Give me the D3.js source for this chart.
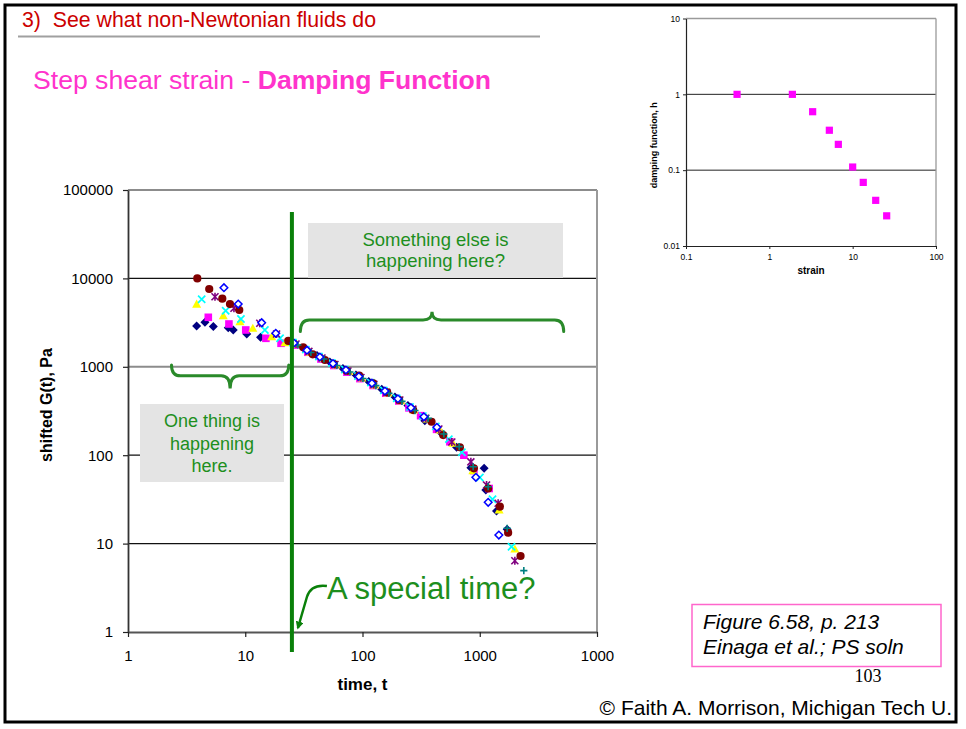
<!DOCTYPE html>
<html>
<head>
<meta charset="utf-8">
<script src="https://cdn.jsdelivr.net/npm/d3@7"></script>
<style>
  body { margin: 0; background: #fff; }
  svg { display: block; font-family: "Liberation Sans", Arial, sans-serif; }
</style>
</head>
<body>
<svg id="slide" width="966" height="729"></svg>
<script>
// ---------- main chart: shifted relaxation modulus G(t), Pa, against time t ----------
const xTicks = [1, 10, 100, 1000, 10000];
const xTickLabels = ["1", "10", "100", "1000", "1000"];
const yTicks = [1, 10, 100, 1000, 10000, 100000];
const yTickLabels = ["1", "10", "100", "1000", "10000", "100000"];

// each series: [time t, shifted G(t)]
const navyDiamond = [
  [3.85, 2900], [4.53, 3200], [5.34, 2850], [7.16, 2770], [7.9, 2600], [10.3, 2350], [13.5, 2160],
  [24.5, 1930], [31.7, 1615], [40.9, 1340], [52.7, 1130], [68.1, 957], [87.9, 808], [113, 684],
  [146, 558], [189, 455], [244, 364], [340, 246], [472, 177], [634, 123], [840, 72], [1090, 71],
  [1127, 40.4], [1390, 23.4], [1713, 14.5]
];
const magentaSquare = [
  [4.84, 3630], [7.26, 3050], [10.1, 2610], [15.0, 2100], [20.2, 1845],
  [26.5, 1760], [34.2, 1460], [44.2, 1225], [57.0, 1035], [73.6, 870], [95, 735], [123, 615],
  [158, 503], [204, 410], [249, 343], [313, 280], [428, 196], [556, 142], [732, 100], [891, 67],
  [1203, 42]
];
const yellowTriangle = [
  [3.85, 5130], [6.49, 3790], [9.01, 3240], [11.6, 2730], [16.8, 2190], [21.8, 1875],
  [27.6, 1787], [35.6, 1469], [45.9, 1242], [59.3, 1048], [76.6, 885], [98.9, 747], [127.6, 623],
  [164.8, 508], [212.4, 414], [274, 326], [354, 258], [457, 193], [590, 137], [873, 67],
  [1463, 24], [1992, 8.7]
];
const cyanCross = [
  [4.25, 5800], [6.81, 4310], [9.19, 3470], [14.7, 2610], [19.8, 2100],
  [25.5, 1884], [32.9, 1566], [42.5, 1309], [54.8, 1104], [70.8, 932], [91.4, 787], [117.9, 663],
  [152, 541], [196, 441], [254, 351], [327, 277], [422, 212], [545, 152], [704, 108], [1002, 56],
  [1285, 31.7], [1866, 9.2]
];
const purpleStar = [
  [5.52, 6210], [8.01, 4590], [13.3, 3105], [18.5, 2350],
  [27.1, 1811], [34.9, 1493], [45.1, 1259], [58.2, 1062], [75.1, 896], [96.9, 757], [125, 632],
  [161, 516], [208, 421], [269, 332], [347, 262], [448, 198], [578, 141], [840, 84], [1143, 46],
  [1435, 28.6], [1992, 6.4]
];
const darkRedCircle = [
  [3.9, 10000], [4.93, 7590], [6.37, 5890], [7.41, 5130], [8.89, 4390],
  [23.3, 1960], [31.2, 1662], [37.6, 1384], [47.8, 1194], [57, 1076], [73.2, 903], [93.7, 793],
  [123.4, 651], [162.5, 515], [205.6, 421], [270.5, 324], [388, 239], [488, 169], [677, 123],
  [891, 71], [1180, 42], [1484, 26.2], [1746, 13.3], [2228, 7.24]
];
const tealPlus = [
  [28.1, 1765], [36.3, 1452], [46.9, 1225], [60.5, 1035], [78.1, 873], [100.8, 737], [130, 613],
  [168, 500], [217, 406], [280, 320], [363, 261], [494, 174], [667, 125], [879, 74], [1180, 44],
  [1713, 14.9], [2376, 4.94]
];
const blueOpenDiamond = [
  [6.58, 7850], [8.71, 5130], [13.8, 3155], [18.2, 2393],
  [26, 1858], [33.6, 1541], [43.3, 1291], [56, 1089], [72.2, 920], [93.1, 777], [120.3, 653],
  [155.3, 532], [200.4, 435], [258.7, 345], [333.7, 272], [430.8, 207], [926, 56.2], [1180, 29.3],
  [1455, 12.5]
];

// time that splits the two regimes (green marker line)
const specialTime = 25;

// ---------- inset: damping function h against strain ----------
const insetXTicks = [0.1, 1, 10, 100];
const insetXTickLabels = ["0.1", "1", "10", "100"];
const insetYTicks = [0.01, 0.1, 1, 10];
const insetYTickLabels = ["0.01", "0.1", "1", "10"];
const insetStrain = [0.41, 1.89, 3.31, 5.25, 6.73, 10.0, 13.4, 18.9, 25.6];
const insetDamping = [1, 1, 0.59, 0.336, 0.219, 0.11, 0.069, 0.040, 0.025];

// ---------- drawing ----------
const svg = d3.select("#slide");
const GREEN = "#0a800a";
const TEXT_GREEN = "#1d8f1d";

// slide frame
svg.append("rect").attr("x", 5).attr("y", 5).attr("width", 951).attr("height", 717)
  .attr("fill", "none").attr("stroke", "#000").attr("stroke-width", 3);

// heading
svg.append("text").attr("x", 22).attr("y", 27).attr("fill", "#cc0000")
  .style("font-size", "21.3px").style("white-space", "pre")
  .text("3)  See what non-Newtonian fluids do");
svg.append("line").attr("x1", 18).attr("x2", 540).attr("y1", 36.5).attr("y2", 36.5)
  .attr("stroke", "#a0a0a0").attr("stroke-width", 2);

const sub = svg.append("text").attr("x", 33).attr("y", 89).attr("fill", "#ff33cc")
  .style("font-size", "26.6px").style("white-space", "pre");
sub.append("tspan").text("Step shear strain - ");
sub.append("tspan").style("font-weight", "bold").text("Damping Function");

// scales
const x = d3.scaleLog().domain([1, 10000]).range([128, 597]);
const y = d3.scaleLog().domain([1, 100000]).range([632, 190]);
const [x0, x1] = x.range();
const [yBot, yTop] = y.range();

const main = svg.append("g");

// horizontal gridlines
main.selectAll("line.grid").data(yTicks.filter(d => d > 1)).join("line")
  .attr("class", "grid")
  .attr("x1", x0).attr("x2", x1)
  .attr("y1", d => y(d)).attr("y2", d => y(d))
  .attr("stroke", d => (d === 100000 || d === 1000) ? "#8c8c8c" : "#111")
  .attr("stroke-width", d => (d === 100000 || d === 1000) ? 2 : 1.2);

// right border of plot area
main.append("line").attr("x1", x1).attr("x2", x1).attr("y1", yTop).attr("y2", yBot)
  .attr("stroke", "#9a9a9a").attr("stroke-width", 2);

// annotation boxes
function noteBox(bx, by, bw, bh, lines, cx, baseline, lh, fs) {
  main.append("rect").attr("x", bx).attr("y", by).attr("width", bw).attr("height", bh)
    .attr("fill", "#e4e4e4");
  const t = main.append("text").attr("text-anchor", "middle").attr("fill", TEXT_GREEN)
    .style("font-size", fs + "px");
  lines.forEach((s, i) => t.append("tspan").attr("x", cx).attr("y", baseline + i * lh).text(s));
}
noteBox(308, 223, 255, 55, ["Something else is", "happening here?"], 435.5, 246, 21, 18.5);
noteBox(140, 404, 144, 78, ["One thing is", "happening", "here."], 212, 427, 22.5, 18);

// marker shapes
const shapes = {
  diamond: r => `M0,${-r}L${r},0L0,${r}L${-r},0Z`,
  square: r => `M${-r},${-r}h${2 * r}v${2 * r}h${-2 * r}Z`,
  triangle: r => `M0,${-r}L${r},${r * 0.8}L${-r},${r * 0.8}Z`,
  cross: r => `M${-r},${-r}L${r},${r}M${-r},${r}L${r},${-r}`,
  star: r => `M${-r},${-r}L${r},${r}M${-r},${r}L${r},${-r}M0,${-r * 1.15}L0,${r * 1.15}`,
  plus: r => `M${-r},0L${r},0M0,${-r}L0,${r}`
};

const series = [
  { data: navyDiamond, kind: "diamond", r: 4.5, fill: "#000080", stroke: "none" },
  { data: magentaSquare, kind: "square", r: 3.8, fill: "#ff00ff", stroke: "none" },
  { data: yellowTriangle, kind: "triangle", r: 4.5, fill: "#ffff00", stroke: "none" },
  { data: cyanCross, kind: "cross", r: 3.6, fill: "none", stroke: "#00ffff", sw: 1.7 },
  { data: purpleStar, kind: "star", r: 3.5, fill: "none", stroke: "#800080", sw: 1.6 },
  { data: darkRedCircle, kind: "circle", r: 4.1, fill: "#800000", stroke: "none" },
  { data: tealPlus, kind: "plus", r: 3.6, fill: "none", stroke: "#008080", sw: 1.6 },
  { data: blueOpenDiamond, kind: "diamond", r: 3.8, fill: "#ffffff", stroke: "#0000ff", sw: 1.5 }
];

const pts = main.append("g");
series.forEach(s => {
  const g = pts.append("g");
  if (s.kind === "circle") {
    g.selectAll("circle").data(s.data).join("circle")
      .attr("cx", d => x(d[0])).attr("cy", d => y(d[1])).attr("r", s.r)
      .attr("fill", s.fill);
  } else {
    g.selectAll("path").data(s.data).join("path")
      .attr("transform", d => `translate(${x(d[0])},${y(d[1])})`)
      .attr("d", shapes[s.kind](s.r))
      .attr("fill", s.fill).attr("stroke", s.stroke).attr("stroke-width", s.sw || 0);
  }
});

// axes
const yAxis = main.append("g").attr("transform", `translate(${x0},0)`)
  .call(d3.axisLeft(y).tickValues(yTicks).tickFormat((d, i) => yTickLabels[i])
    .tickSize(5).tickSizeOuter(0).tickPadding(10));
const xAxis = main.append("g").attr("transform", `translate(0,${yBot})`)
  .call(d3.axisBottom(x).tickValues(xTicks).tickFormat((d, i) => xTickLabels[i])
    .tickSize(5).tickSizeOuter(0).tickPadding(13));
[yAxis, xAxis].forEach(a => {
  a.selectAll("text").style("font-size", "15px").attr("fill", "#000")
    .style("font-family", "\"Liberation Sans\", Arial, sans-serif");
  a.selectAll(".tick line").attr("stroke", "#222").attr("stroke-width", 1.2);
});
yAxis.select(".domain").attr("stroke", "#333").attr("stroke-width", 1.8);
xAxis.select(".domain").attr("stroke", "#555").attr("stroke-width", 2.2);

// axis titles
main.append("text").attr("transform", `translate(52,${(yTop + yBot) / 2 - 6}) rotate(-90)`)
  .attr("text-anchor", "middle").style("font-size", "16px").style("font-weight", "bold")
  .text("shifted G(t), Pa");
main.append("text").attr("x", x(100)).attr("y", 690).attr("text-anchor", "middle")
  .style("font-size", "17px").style("font-weight", "bold").text("time, t");

// special-time marker line
const xs = x(specialTime);
main.append("line").attr("x1", xs).attr("x2", xs).attr("y1", 212).attr("y2", 652)
  .attr("stroke", GREEN).attr("stroke-width", 4);

// curly braces
function brace(xa, xb, yTip, yFlat, yPeak) {
  const xm = (xa + xb) / 2;
  const c = 9;
  return `M${xa},${yTip}Q${xa},${yFlat} ${xa + c},${yFlat}L${xm - c},${yFlat}` +
    `Q${xm},${yFlat} ${xm},${yPeak}Q${xm},${yFlat} ${xm + c},${yFlat}` +
    `L${xb - c},${yFlat}Q${xb},${yFlat} ${xb},${yTip}`;
}
main.append("path").attr("d", brace(x(2.35), x(23.5), y(1050), y(790), y(570)))
  .attr("fill", "none").attr("stroke", "#2a8a2a").attr("stroke-width", 3)
  .attr("stroke-linecap", "round");
main.append("path").attr("d", brace(x(29.5), x(5200), y(2500), y(3390), y(4200)))
  .attr("fill", "none").attr("stroke", "#2a8a2a").attr("stroke-width", 3)
  .attr("stroke-linecap", "round");

// "A special time?" label with arrow
svg.append("defs").append("marker").attr("id", "head")
  .attr("viewBox", "0 0 10 10").attr("refX", 8).attr("refY", 5)
  .attr("markerWidth", 8).attr("markerHeight", 8).attr("markerUnits", "userSpaceOnUse")
  .attr("orient", "auto")
  .append("path").attr("d", "M0,0L10,5L0,10Z").attr("fill", GREEN);
main.append("path")
  .attr("d", `M${xs + 35},${586}Q${xs + 19},${584} ${xs + 15},${597}L${xs + 6},${628}`)
  .attr("fill", "none").attr("stroke", GREEN).attr("stroke-width", 2.5)
  .attr("marker-end", "url(#head)");
main.append("text").attr("x", 327).attr("y", 599).attr("fill", TEXT_GREEN)
  .style("font-size", "31px").text("A special time?");

// ---------- inset chart ----------
const xi = d3.scaleLog().domain([0.1, 100]).range([686, 936]);
const yi = d3.scaleLog().domain([0.01, 10]).range([246, 18.5]);
const inset = svg.append("g");
const [xi0, xi1] = xi.range();
const [yiBot, yiTop] = yi.range();

inset.selectAll("line.grid").data(insetYTicks.filter(d => d > 0.01)).join("line")
  .attr("x1", xi0).attr("x2", xi1).attr("y1", d => yi(d)).attr("y2", d => yi(d))
  .attr("stroke", d => d === 10 ? "#9a9a9a" : "#222")
  .attr("stroke-width", d => d === 10 ? 1.3 : 1);
inset.append("line").attr("x1", xi1).attr("x2", xi1).attr("y1", yiTop).attr("y2", yiBot)
  .attr("stroke", "#9a9a9a").attr("stroke-width", 1.3);

const iyAxis = inset.append("g").attr("transform", `translate(${xi0},0)`)
  .call(d3.axisLeft(yi).tickValues(insetYTicks).tickFormat((d, i) => insetYTickLabels[i])
    .tickSize(3).tickSizeOuter(0).tickPadding(3));
const ixAxis = inset.append("g").attr("transform", `translate(0,${yiBot})`)
  .call(d3.axisBottom(xi).tickValues(insetXTicks).tickFormat((d, i) => insetXTickLabels[i])
    .tickSize(3).tickSizeOuter(0).tickPadding(5));
[iyAxis, ixAxis].forEach(a => {
  a.selectAll("text").style("font-size", "8.5px").attr("fill", "#000")
    .style("font-family", "\"Liberation Sans\", Arial, sans-serif");
  a.selectAll(".tick line").attr("stroke", "#222");
  a.select(".domain").attr("stroke", "#222").attr("stroke-width", 1.2);
});

inset.selectAll("path.pt").data(d3.zip(insetStrain, insetDamping)).join("path")
  .attr("class", "pt")
  .attr("transform", d => `translate(${xi(d[0])},${yi(d[1])})`)
  .attr("d", shapes.square(3.6)).attr("fill", "#ff00ff");

inset.append("text").attr("transform", `translate(657,${(yiTop + yiBot) / 2 + 13}) rotate(-90)`)
  .attr("text-anchor", "middle").style("font-size", "9px").style("font-weight", "bold")
  .text("damping function, h");
inset.append("text").attr("x", 811).attr("y", 274).attr("text-anchor", "middle")
  .style("font-size", "10px").style("font-weight", "bold").text("strain");

// ---------- source note and footer ----------
svg.append("rect").attr("x", 692).attr("y", 604.5).attr("width", 249).attr("height", 62)
  .attr("fill", "#fff").attr("stroke", "#ff66cc").attr("stroke-width", 1.5);
const cap = svg.append("text").style("font-size", "21px").style("font-style", "italic");
cap.append("tspan").attr("x", 703).attr("y", 629).text("Figure 6.58, p. 213");
cap.append("tspan").attr("x", 703).attr("y", 654).text("Einaga et al.; PS soln");

svg.append("text").attr("x", 868).attr("y", 682).attr("text-anchor", "middle")
  .style("font-family", "\"Liberation Serif\", \"Times New Roman\", serif")
  .style("font-size", "18px").text("103");
svg.append("text").attr("x", 952).attr("y", 715).attr("text-anchor", "end")
  .style("font-size", "21px").text("© Faith A. Morrison, Michigan Tech U.");
</script>
</body>
</html>
